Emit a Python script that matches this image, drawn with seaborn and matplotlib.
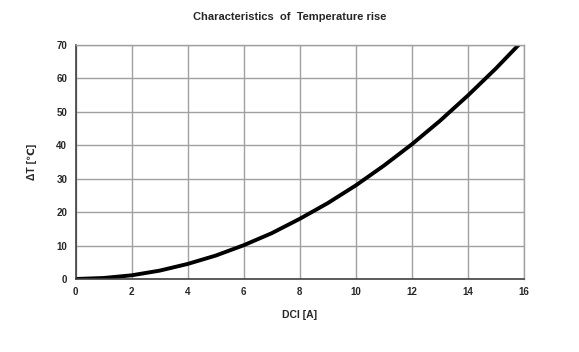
import matplotlib
matplotlib.use("Agg")
import matplotlib.pyplot as plt
import seaborn as sns
import pandas as pd

current_a = [0, 1, 2, 3, 4, 5, 6, 7, 8, 9, 10, 11, 12, 13, 14, 15, 16]
temp_rise = [0, 0.3, 1.1, 2.5, 4.5, 7.0, 10.1, 13.7, 18.0, 22.7, 28.0, 33.9, 40.3, 47.3, 54.9, 63.0, 71.7]
x_ticks = [0, 2, 4, 6, 8, 10, 12, 14, 16]
y_ticks = [0, 10, 20, 30, 40, 50, 60, 70]

sns.set_style("white")
plt.rcParams['font.family'] = ['Liberation Sans', 'DejaVu Sans']

df = pd.DataFrame({"I": current_a, "dT": temp_rise})

fig = plt.figure(figsize=(5.79, 3.52), dpi=100)
ax = fig.add_axes([75.5/579, 1-279/352, (524-75.5)/579, (279-45)/352])

sns.lineplot(data=df, x="I", y="dT", ax=ax, color="black", linewidth=2.8, clip_on=True)

ax.set_xlim(0, 16)
ax.set_ylim(0, 70)
ax.set_xticks(x_ticks)
ax.set_yticks(y_ticks)
ax.grid(True, color="#a0a0a0", linewidth=1.0)
ax.set_axisbelow(True)
for lbl in ax.get_xticklabels() + ax.get_yticklabels():
    lbl.set_fontweight("bold")
    lbl.set_fontsize(7)
ax.tick_params(axis="both", length=0, pad=6)
for s in ["top", "right"]:
    ax.spines[s].set_color("#a0a0a0")
    ax.spines[s].set_linewidth(1.0)
for s in ["left", "bottom"]:
    ax.spines[s].set_color("#404040")
    ax.spines[s].set_linewidth(1.2)

ax.set_xlabel("DCI [A]", fontsize=7.5, fontweight="bold", labelpad=9)
ax.set_ylabel("ΔT [℃]", fontsize=7.5, fontweight="bold", labelpad=14)
fig.text(0.5, 1-17/352, "Characteristics  of  Temperature rise", ha="center", va="center",
         fontsize=8, fontweight="bold")

fig.savefig("out.png", dpi=100)
